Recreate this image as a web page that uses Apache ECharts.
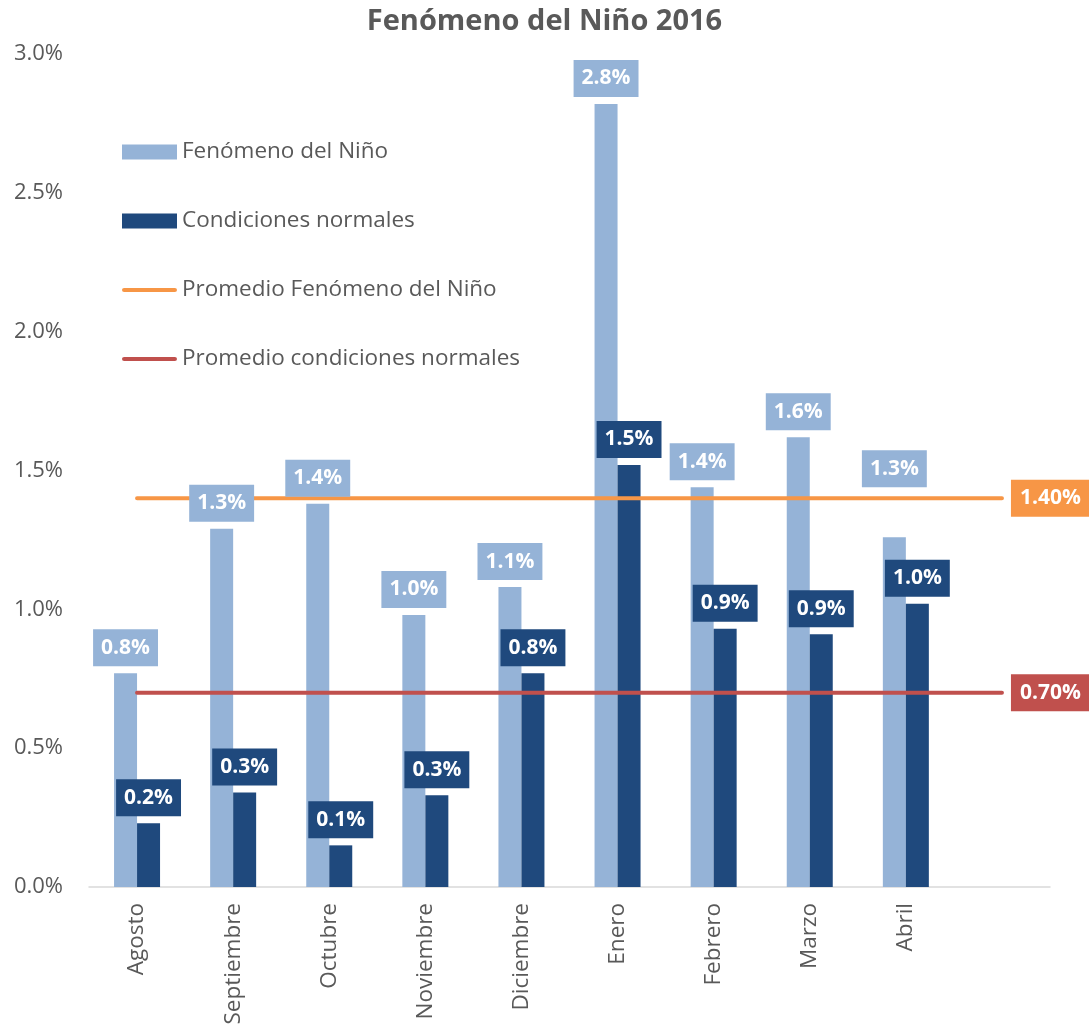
<!DOCTYPE html>
<html>
<head>
<meta charset="utf-8">
<script src="https://cdn.jsdelivr.net/npm/echarts@6/dist/echarts.min.js"></script>
<style>
  html, body { margin: 0; padding: 0; background: #fff; }
  #main { width: 1089px; height: 1030px; }
</style>
</head>
<body>
<div id="main"></div>
<script>
// meses (la última categoría queda vacía, como en el original)
var meses = ['Agosto', 'Septiembre', 'Octubre', 'Noviembre', 'Diciembre', 'Enero', 'Febrero', 'Marzo', 'Abril', ''];
// valores en %
var nino = [0.77, 1.29, 1.38, 0.98, 1.08, 2.82, 1.44, 1.62, 1.26];
var normal = [0.23, 0.34, 0.15, 0.33, 0.77, 1.52, 0.93, 0.91, 1.02];
var promNino = [1.4, 1.4, 1.4, 1.4, 1.4, 1.4, 1.4, 1.4, 1.4, 1.4];
var promNormal = [0.7, 0.7, 0.7, 0.7, 0.7, 0.7, 0.7, 0.7, 0.7, 0.7];
var ticksY = [0, 0.5, 1.0, 1.5, 2.0, 2.5, 3.0];

var fuente = 'Open Sans';
var gris = '#595959';
var azulClaro = '#95b3d7', azulOscuro = '#1f497d';
var naranja = '#f79646', rojo = '#c0504d';

var myChart = echarts.init(document.getElementById('main'));

// etiqueta de la barra Abril (Niño) va más arriba
var ninoData = nino.map(function (v, i) {
    if (i === 8) return { value: v, label: { distance: 50 } };
    return v;
});

function etiquetaBarra(color) {
    return {
        show: true,
        position: 'top',
        distance: 7,
        backgroundColor: color,
        padding: [8, 8],
        color: '#fff',
        fontFamily: fuente,
        fontWeight: 'bold',
        fontSize: 21,
        formatter: function (p) { return p.value.toFixed(1) + '%'; }
    };
}

function etiquetaLinea(color, texto) {
    return {
        show: true,
        distance: 9,
        backgroundColor: color,
        padding: [8, 9],
        color: '#fff',
        fontFamily: fuente,
        fontWeight: 'bold',
        fontSize: 21,
        formatter: texto
    };
}

var iconoLinea = 'path://M2,0H50A2,2 0 0 1 50,4H2A2,2 0 0 1 2,0Z';

var option = {
    animation: false,
    title: {
        text: 'Fenómeno del Niño 2016',
        left: 'center',
        top: 2,
        textStyle: { fontFamily: fuente, fontSize: 29, fontWeight: 'bold', color: gris }
    },
    legend: {
        orient: 'vertical',
        left: 117,
        top: 134,
        itemWidth: 55,
        itemHeight: 15,
        itemGap: 43,
        textStyle: { fontFamily: fuente, fontSize: 22.5, color: gris, lineHeight: 26 },
        data: [
            { name: 'Fenómeno del Niño', icon: 'rect' },
            { name: 'Condiciones normales', icon: 'rect' },
            { name: 'Promedio Fenómeno del Niño', icon: iconoLinea },
            { name: 'Promedio condiciones normales', icon: iconoLinea }
        ]
    },
    grid: { left: 89, right: 39, top: 54, bottom: 143 },
    xAxis: [{
        type: 'category',
        data: meses,
        axisLine: { lineStyle: { color: '#d9d9d9', width: 1.5 } },
        axisTick: { show: false },
        axisLabel: { rotate: 90, margin: 16, interval: 0, fontFamily: fuente, fontSize: 22.5, color: gris }
    }, {
        // eje oculto solo para dibujar las etiquetas encima de las líneas
        type: 'category',
        data: meses,
        show: false
    }],
    yAxis: {
        type: 'value',
        min: ticksY[0],
        max: ticksY[ticksY.length - 1],
        interval: 0.5,
        axisLine: { show: false },
        axisTick: { show: false },
        splitLine: { show: false },
        axisLabel: {
            margin: 26, fontFamily: fuente, fontSize: 22, color: gris,
            formatter: function (v) { return v.toFixed(1) + '%'; }
        }
    },
    series: [{
        name: 'Fenómeno del Niño',
        type: 'bar',
        barWidth: 23,
        barGap: '0%',
        z: 2,
        itemStyle: { color: azulClaro },
        data: nino
    }, {
        name: 'Condiciones normales',
        type: 'bar',
        barWidth: 23,
        barGap: '0%',
        z: 2,
        itemStyle: { color: azulOscuro },
        data: normal
    }, {
        name: 'Promedio Fenómeno del Niño',
        type: 'line',
        symbol: 'none',
        z: 3,
        lineStyle: { color: naranja, width: 4, cap: 'round' },
        itemStyle: { color: naranja },
        endLabel: etiquetaLinea(naranja, '1.40%'),
        data: promNino
    }, {
        name: 'Promedio condiciones normales',
        type: 'line',
        symbol: 'none',
        z: 3,
        lineStyle: { color: rojo, width: 4, cap: 'round' },
        itemStyle: { color: rojo },
        endLabel: etiquetaLinea(rojo, '0.70%'),
        data: promNormal
    }, {
        name: 'etiquetas Niño',
        type: 'bar',
        xAxisIndex: 1,
        barWidth: 23,
        barGap: '0%',
        z: 5,
        silent: true,
        itemStyle: { color: 'rgba(0,0,0,0)' },
        label: etiquetaBarra(azulClaro),
        data: ninoData
    }, {
        name: 'etiquetas normales',
        type: 'bar',
        xAxisIndex: 1,
        barWidth: 23,
        barGap: '0%',
        z: 5,
        silent: true,
        itemStyle: { color: 'rgba(0,0,0,0)' },
        label: etiquetaBarra(azulOscuro),
        data: normal
    }]
};

myChart.setOption(option);
</script>
</body>
</html>
